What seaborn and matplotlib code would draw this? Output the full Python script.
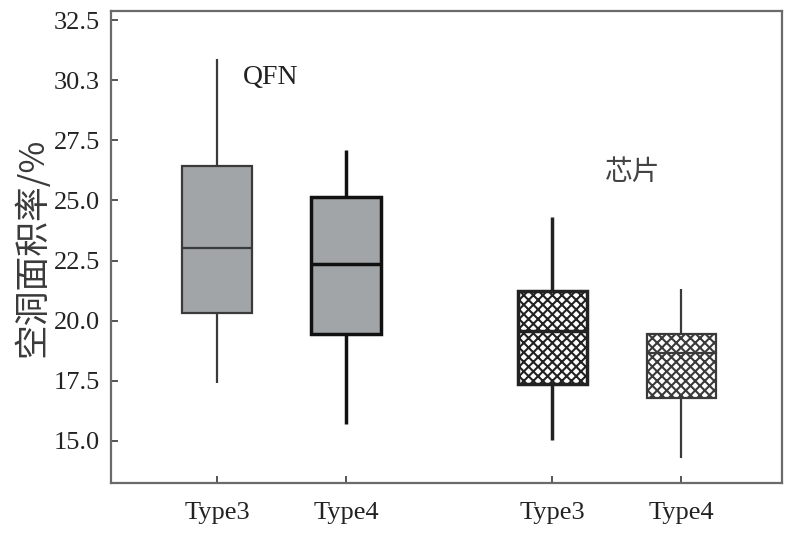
import matplotlib

matplotlib.use("Agg")
import matplotlib.pyplot as plt
import numpy as np
import pandas as pd
import seaborn as sns

# five-number summaries: min, Q1, median, Q3, max
qfn_type3 = [17.4, 20.3, 23.0, 26.45, 30.9]
qfn_type4 = [15.7, 19.45, 22.35, 25.15, 27.1]
chip_type3 = [15.05, 17.35, 19.55, 21.25, 24.3]
chip_type4 = [14.3, 16.8, 18.65, 19.45, 21.3]

box_labels = ["Type3", "Type4", "Type3", "Type4"]
group_names = ["QFN", "芯片"]
y_ticks = [15.0, 17.5, 20.0, 22.5, 25.0, 27.5, 30.0, 32.5]
y_tick_labels = ["15.0", "17.5", "20.0", "22.5", "25.0", "27.5", "30.3", "32.5"]
y_label = "空洞面积率/%"

positions = [0.0, 1.0, 2.6, 3.6]
series = [qfn_type3, qfn_type4, chip_type3, chip_type4]

df = pd.DataFrame(
    {
        "pos": np.repeat(positions, [len(s) for s in series]),
        "value": np.concatenate(series),
    }
)

sns.set_theme(style="ticks")
plt.rcParams["font.family"] = ["Liberation Serif", "Noto Sans CJK SC", "DejaVu Sans"]
plt.rcParams["hatch.linewidth"] = 0.75

fig = plt.figure(figsize=(3.95, 2.71), dpi=200)
ax = fig.add_axes([0.1405, 0.1089, 0.8495, 0.8708])

sns.boxplot(
    data=df,
    x="pos",
    y="value",
    native_scale=True,
    width=0.54,
    whis=(0, 100),
    showcaps=False,
    showfliers=False,
    color="#a2a5a7",
    linecolor="#333333",
    linewidth=0.8,
    saturation=1,
    ax=ax,
)

# per-box styling: fill, hatch and line weight
faces = ["#a2a5a7", "#a2a5a7", "white", "white"]
hatches = [None, None, "x" * 7, "x" * 7]
edge_colors = ["#3a3a3a", "#111111", "#222222", "#3a3a3a"]
widths = [0.8, 1.25, 1.25, 0.8]

boxes = sorted(ax.patches, key=lambda p: p.get_path().vertices[:, 0].mean())
for i, patch in enumerate(boxes):
    patch.set_facecolor(faces[i])
    patch.set_edgecolor(edge_colors[i])
    patch.set_linewidth(widths[i])
    if hatches[i]:
        patch.set_hatch(hatches[i])

for line in ax.lines:
    xd = np.asarray(line.get_xdata(), dtype=float)
    if xd.size == 0:
        continue
    idx = int(np.argmin([abs(xd.mean() - p) for p in positions]))
    line.set_color(edge_colors[idx])
    line.set_linewidth(widths[idx])

ax.set_xlim(-0.822, 4.38)
ax.set_ylim(13.25, 32.875)
ax.set_xticks(positions)
ax.set_xticklabels(box_labels, fontsize=9.5)
ax.set_yticks(y_ticks)
ax.set_yticklabels(y_tick_labels, fontsize=9.5)
ax.set_xlabel("")
ax.set_ylabel(y_label, fontsize=12.5, family=["Noto Sans CJK SC"], color="#3a3a3a", labelpad=1)

ax.tick_params(axis="both", direction="in", length=2.5, width=0.7, colors="#555555", labelcolor="#222222")
ax.tick_params(axis="x", pad=7)
ax.tick_params(axis="y", pad=4)
for side in ["left", "right", "top", "bottom"]:
    ax.spines[side].set_visible(True)
    ax.spines[side].set_color("#6a6a6a")
    ax.spines[side].set_linewidth(0.8)

ax.text(0.2, 30.1, group_names[0], fontsize=10, va="center", ha="left", color="#222222")
ax.text(3.01, 26.17, group_names[1], fontsize=10, va="center", ha="left",
        family=["Noto Sans CJK SC"], color="#444444")

fig.savefig("out.png", dpi=200)
plt.close(fig)
